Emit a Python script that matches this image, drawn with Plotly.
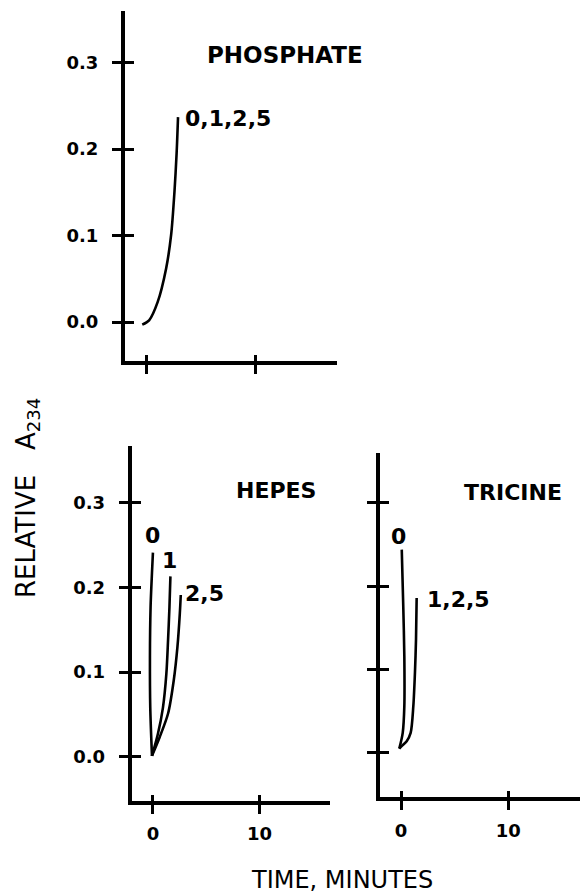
import plotly.graph_objects as go

# ---------------- data ----------------
# PHOSPHATE panel: single curve labelled "0,1,2,5"
phos_t = [-0.35, 0.28, 1.06, 1.84, 2.30, 2.60, 2.80, 2.93]
phos_a = [-0.003, 0.002, 0.023, 0.062, 0.101, 0.150, 0.195, 0.237]

# HEPES panel: three curves
hep0_t = [0.0, -0.09, -0.22, -0.28, -0.25, -0.09]
hep0_a = [0.241, 0.217, 0.177, 0.118, 0.058, 0.001]
hep1_t = [-0.09, 0.47, 0.94, 1.26, 1.42, 1.55, 1.64]
hep1_a = [0.001, 0.027, 0.058, 0.098, 0.138, 0.177, 0.213]
hep25_t = [-0.09, 0.63, 1.42, 1.95, 2.30, 2.52, 2.61]
hep25_a = [0.001, 0.023, 0.051, 0.090, 0.130, 0.169, 0.191]

# TRICINE panel: two curves
tri0_t = [0.07, 0.21, 0.31, 0.31, 0.16, -0.16]
tri0_a = [0.244, 0.176, 0.116, 0.056, 0.024, 0.005]
tri125_t = [-0.16, 0.06, 0.53, 0.90, 1.15, 1.30, 1.40, 1.46]
tri125_a = [0.005, 0.008, 0.014, 0.024, 0.056, 0.096, 0.136, 0.186]

y_tickvals = [0.0, 0.1, 0.2, 0.3]
y_ticktext = ["0.0", "0.1", "0.2", "0.3"]
x_tickvals = [0, 10]
x_ticktext = ["0", "10"]

# ---------------- figure ----------------
W, H = 580, 894
FONT = "DejaVu Sans"
BLACK = "#000000"


def px_x(p):
    return p / W


def px_y(p):
    return 1 - p / H


panels = {
    # name: (x domain px, y domain px (top,bottom), x range, y range)
    "1": ((125, 337), (10.7, 361), [-1.93, 17.5], [-0.045, 0.360]),
    "2": ((131.7, 330), (446, 800.7), [-1.99, 16.6], [-0.052, 0.367]),
    "3": ((380, 580), (453, 797), [-1.96, 16.7], [-0.053, 0.360]),
}

fig = go.Figure()

line_style = dict(color=BLACK, width=2.6)


def add_curve(t, a, ax):
    fig.add_trace(go.Scatter(x=t, y=a, mode="lines", line=dict(shape="spline", smoothing=0.8, **line_style),
                             xaxis="x" + ax, yaxis="y" + ax, showlegend=False, hoverinfo="skip"))


add_curve(phos_t, phos_a, "1")
add_curve(hep0_t, hep0_a, "2")
add_curve(hep1_t, hep1_a, "2")
add_curve(hep25_t, hep25_a, "2")
add_curve(tri0_t, tri0_a, "3")
add_curve(tri125_t, tri125_a, "3")

layout = dict(
    width=W, height=H,
    margin=dict(l=0, r=0, t=0, b=0),
    paper_bgcolor="white", plot_bgcolor="white",
    showlegend=False,
    font=dict(family=FONT, color=BLACK),
)

overlay_idx = {"1": "4", "2": "5", "3": "6"}
for name, (xd, yd, xr, yr) in panels.items():
    xdom = [px_x(xd[0]), px_x(xd[1])]
    ydom = [px_y(yd[1]), px_y(yd[0])]
    show_x_labels = name != "1"
    show_y_labels = name != "3"
    layout["xaxis" + name] = dict(
        domain=xdom, range=xr, anchor="y" + name, showgrid=False, zeroline=False,
        showline=True, linecolor=BLACK, linewidth=4,
        ticks="outside", ticklen=9, tickwidth=3, tickcolor=BLACK,
        tickvals=x_tickvals, ticktext=x_ticktext, showticklabels=show_x_labels,
        tickfont=dict(family=FONT, size=18, color=BLACK, weight="bold"),
        ticklabelstandoff=5,
    )
    layout["yaxis" + name] = dict(
        domain=ydom, range=yr, anchor="x" + name, showgrid=False, zeroline=False,
        showline=True, linecolor=BLACK, linewidth=4,
        ticks="outside", ticklen=9, tickwidth=3, tickcolor=BLACK,
        tickvals=y_tickvals, ticktext=y_ticktext, showticklabels=show_y_labels,
        tickfont=dict(family=FONT, size=18, color=BLACK, weight="bold"),
        ticklabelstandoff=10,
    )
    o = overlay_idx[name]
    # overlay axes give the inner half of the crossing ticks
    layout["xaxis" + o] = dict(
        domain=xdom, range=xr, anchor="y" + o, overlaying="x" + name, showgrid=False, zeroline=False,
        showline=False, ticks="inside", ticklen=6, tickwidth=3, tickcolor=BLACK,
        tickvals=x_tickvals, showticklabels=False,
    )
    layout["yaxis" + o] = dict(
        domain=ydom, range=yr, anchor="x" + o, overlaying="y" + name, showgrid=False, zeroline=False,
        showline=False, ticks="inside", ticklen=9, tickwidth=3, tickcolor=BLACK,
        tickvals=y_tickvals, showticklabels=False,
    )
    fig.add_trace(go.Scatter(x=[None], y=[None], mode="lines", xaxis="x" + o, yaxis="y" + o,
                             showlegend=False, hoverinfo="skip"))

fig.update_layout(**layout)

ann_font = dict(family=FONT, size=22, color=BLACK, weight="bold")


def ann(text, x, y, xanchor="center", font=ann_font, **kw):
    return dict(text=text, x=x / W, y=px_y(y), xref="paper", yref="paper", showarrow=False,
                xanchor=xanchor, yanchor="middle", font=font, **kw)


annotations = [
    ann("PHOSPHATE", 285, 55, font=dict(family=FONT, size=23, color=BLACK, weight="bold")),
    ann("0,1,2,5", 183, 118, xanchor="left"),
    ann("HEPES", 276, 491),
    ann("0", 152.5, 535),
    ann("1", 170, 560),
    ann("2,5", 183, 593, xanchor="left"),
    ann("TRICINE", 513, 492),
    ann("0", 398, 536),
    ann("1,2,5", 425, 599, xanchor="left"),
    ann("TIME, MINUTES", 342, 880, font=dict(family=FONT, size=24, color=BLACK)),
    ann("RELATIVE   A<sub>234</sub>", 27, 498, textangle=-90,
        font=dict(family=FONT, size=26, color=BLACK)),
]
fig.update_layout(annotations=annotations)

fig.write_html("out.html", config={"displayModeBar": False},
               post_script="document.body.style.margin='0px';")
